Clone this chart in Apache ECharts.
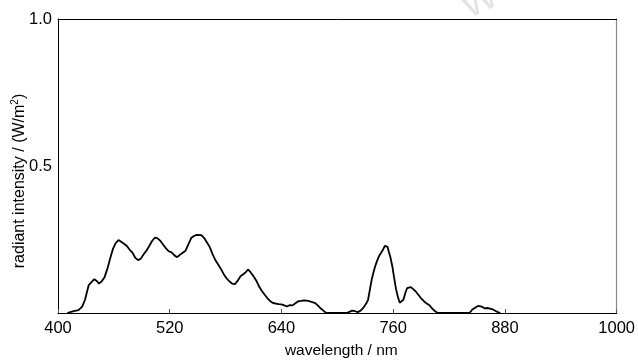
<!DOCTYPE html>
<html>
<head>
<meta charset="utf-8">
<style>
  html, body { margin: 0; padding: 0; background: #fff; }
  #chart { width: 638px; height: 364px; }
</style>
<script src="https://cdn.jsdelivr.net/npm/echarts@6/dist/echarts.min.js"></script>
</head>
<body>
<div id="chart"></div>
<script>
// Emission spectrum: wavelength (nm) against radiant intensity (W/m²)
const wavelengths = [
  410, 414, 418, 422, 426, 429, 431, 433, 436, 439, 442, 444, 447, 450, 453, 456, 459, 462, 465, 467,
  469, 471, 474, 477, 480, 483, 486, 489, 492, 495, 498, 501, 504, 507, 510, 513, 516, 519, 522, 525,
  528, 531, 534, 537, 539, 541, 543, 546, 549, 551, 554, 557, 560, 563, 566, 569, 572, 575, 578, 581,
  584, 587, 590, 593, 596, 599, 602, 604, 607, 610, 613, 616, 619, 622, 625, 628, 631, 634, 637, 640,
  643, 646, 649, 652, 655, 658, 661, 664, 667, 670, 673, 676, 679, 682, 685, 688, 700, 710, 713, 716,
  719, 722, 725, 728, 731, 733, 735, 737, 739, 741, 743, 745, 747, 749, 751, 752, 754, 755, 757, 759,
  761, 763, 765, 767, 769, 771, 773, 775, 777, 779, 781, 784, 787, 790, 793, 796, 799, 802, 805, 808,
  825, 842, 845, 848, 851, 853, 855, 858, 861, 864, 867, 870, 873, 875
];
const intensity = [
  0.000, 0.004, 0.007, 0.010, 0.022, 0.045, 0.070, 0.095, 0.105, 0.115, 0.108, 0.100, 0.108, 0.122, 0.150, 0.185, 0.218, 0.238, 0.248, 0.246,
  0.240, 0.242, 0.228, 0.215, 0.205, 0.188, 0.180, 0.185, 0.200, 0.212, 0.228, 0.245, 0.256, 0.254, 0.245, 0.232, 0.220, 0.210, 0.206, 0.196,
  0.190, 0.198, 0.205, 0.212, 0.214, 0.240, 0.255, 0.262, 0.266, 0.270, 0.265, 0.255, 0.240, 0.224, 0.200, 0.180, 0.165, 0.150, 0.132, 0.118,
  0.108, 0.100, 0.098, 0.110, 0.125, 0.132, 0.140, 0.148, 0.138, 0.125, 0.110, 0.090, 0.075, 0.062, 0.050, 0.040, 0.034, 0.032, 0.030, 0.029,
  0.026, 0.022, 0.027, 0.026, 0.033, 0.040, 0.041, 0.043, 0.042, 0.040, 0.037, 0.034, 0.026, 0.016, 0.008, 0.000, 0.000, 0.000, 0.004, 0.008,
  0.006, 0.003, 0.008, 0.018, 0.032, 0.045, 0.080, 0.115, 0.140, 0.162, 0.180, 0.195, 0.205, 0.215, 0.228, 0.233, 0.225, 0.212, 0.190, 0.160,
  0.120, 0.082, 0.055, 0.035, 0.030, 0.045, 0.068, 0.085, 0.090, 0.088, 0.082, 0.074, 0.062, 0.050, 0.040, 0.032, 0.026, 0.015, 0.006, 0.000,
  0.000, 0.000, 0.012, 0.018, 0.024, 0.027, 0.022, 0.016, 0.017, 0.015, 0.012, 0.007, 0.002, 0.000
];
const xTicks = [400, 520, 640, 760, 880, 1000];
const yTicks = [0.5, 1.0];

const FONT = '"Liberation Sans", Arial, sans-serif';
const spectrum = wavelengths.map((w, i) => [w, intensity[i]]);

const chart = echarts.init(document.getElementById('chart'), null, { renderer: 'canvas' });
chart.setOption({
  animation: false,
  backgroundColor: '#ffffff',
  grid: { left: 58, right: 10, top: 19, bottom: 44.5, containLabel: false },
  xAxis: [{
    type: 'value',
    min: xTicks[0],
    max: xTicks[xTicks.length - 1],
    interval: xTicks[1] - xTicks[0],
    name: 'wavelength / nm',
    nameLocation: 'middle',
    nameGap: 30,
    nameTextStyle: { fontFamily: FONT, fontSize: 15.5, color: '#000', padding: [0, 0, 0, 8] },
    axisLine: { show: true, lineStyle: { color: '#000', width: 1.2 } },
    axisTick: { show: true, inside: true, length: 4, lineStyle: { color: '#555', width: 1 } },
    axisLabel: { fontFamily: FONT, fontSize: 16.5, color: '#000', margin: 7, formatter: v => String(v) },
    splitLine: { show: false }
  }, {
    type: 'value', position: 'top',
    min: xTicks[0], max: xTicks[xTicks.length - 1],
    axisLine: { show: true, onZero: false, lineStyle: { color: '#000', width: 1 } },
    axisTick: { show: false }, axisLabel: { show: false }, splitLine: { show: false }
  }],
  yAxis: [{
    type: 'value',
    min: 0,
    max: yTicks[yTicks.length - 1],
    interval: yTicks[0],
    axisLine: { show: true, lineStyle: { color: '#000', width: 1 } },
    axisTick: { show: false },
    axisLabel: {
      fontFamily: FONT, fontSize: 16.5, color: '#000', margin: 6,
      showMinLabel: false,
      formatter: v => v.toFixed(1)
    },
    splitLine: { show: false }
  }, {
    type: 'value', position: 'right',
    min: 0, max: yTicks[yTicks.length - 1],
    axisLine: { show: true, onZero: false, lineStyle: { color: '#888', width: 1.2 } },
    axisTick: { show: false }, axisLabel: { show: false }, splitLine: { show: false }
  }],
  graphic: [{
    type: 'text',
    x: 19, y: 181,
    rotation: Math.PI / 2,
    style: {
      text: '{a|radiant intensity / (W/m}{s|2}{a|)}',
      fill: '#000',
      align: 'center',
      verticalAlign: 'middle',
      rich: {
        a: { fontFamily: FONT, fontSize: 16, fill: '#000', lineHeight: 18, verticalAlign: 'bottom' },
        s: { fontFamily: FONT, fontSize: 10, fill: '#000', lineHeight: 18, verticalAlign: 'top' }
      }
    }
  }, {
    type: 'text',
    x: 480, y: 2,
    rotation: 0.45,
    z: -1,
    style: {
      text: 'W',
      fill: '#e4e4e4',
      align: 'center',
      verticalAlign: 'middle',
      font: '38px "Liberation Sans", Arial, sans-serif'
    }
  }],
  series: [{
    type: 'line',
    xAxisIndex: 0,
    yAxisIndex: 0,
    data: spectrum,
    showSymbol: false,
    smooth: false,
    lineStyle: { color: '#000', width: 1.8 },
    clip: true
  }]
});
</script>
</body>
</html>
